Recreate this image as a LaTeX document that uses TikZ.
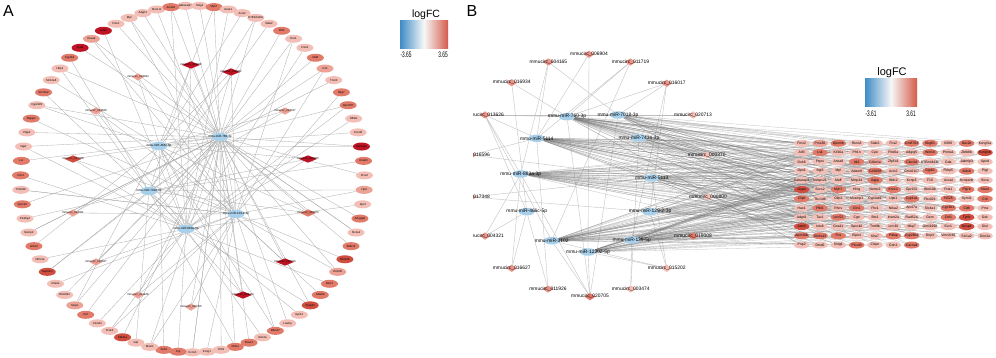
\documentclass[tikz,border=0pt]{standalone}
\usepackage{fontspec}
\setmainfont{Liberation Sans}
\usepackage{graphicx}
\usetikzlibrary{shapes.geometric,backgrounds}
\definecolor{hubblue}{RGB}{168,208,234}
\definecolor{gL}{RGB}{243,190,181}
\definecolor{gP}{RGB}{237,162,150}
\definecolor{gM}{RGB}{226,122,106}
\definecolor{gD}{RGB}{208,78,64}
\definecolor{gX}{RGB}{190,20,36}
\definecolor{gS}{RGB}{234,150,138}
\definecolor{edgegray}{RGB}{172,172,172}
\definecolor{edgelight}{RGB}{190,190,190}
\definecolor{edgedark}{RGB}{118,118,118}
\definecolor{lgblue}{RGB}{62,140,198}
\definecolor{lgred}{RGB}{212,92,74}
\definecolor{lgmid}{RGB}{247,247,247}
\pgfdeclarelayer{bgwhite}
\pgfsetlayers{bgwhite,background,main}
\begin{document}
\begin{tikzpicture}[x=1pt,y=-1pt,
  ringg/.style={ellipse, draw=none, minimum width=17pt, minimum height=8pt, inner sep=0pt},
  lblA/.style={font=\fontsize{2.8}{3}\selectfont, inner sep=0pt},
  lblH/.style={font=\fontsize{3}{3.2}\selectfont, inner sep=0pt},
  hubA/.style={ellipse, fill=hubblue, minimum width=17pt, minimum height=8.5pt, inner sep=0pt},
  circA/.style={diamond, inner sep=0pt},
  hubB/.style={ellipse, fill=hubblue, minimum width=16pt, minimum height=7.5pt, inner sep=0pt},
  lblB/.style={font=\fontsize{4.9}{5}\selectfont, inner sep=0pt},
  circB/.style={diamond, minimum width=11pt, minimum height=7.5pt, inner sep=0pt},
  gridg/.style={ellipse, minimum width=15.5pt, minimum height=7pt, inner sep=0pt},
  lblG/.style={font=\fontsize{3.4}{3.6}\selectfont, inner sep=0pt},
  edgeA/.style={draw=edgegray, line width=0.3pt},
  edgeC/.style={draw=edgelight, line width=0.35pt},
  edgeG/.style={draw=edgedark, line width=0.3pt, opacity=0.45},
  panel/.style={font=\fontsize{16}{16}\selectfont, inner sep=0pt},
  legt/.style={font=\fontsize{10.5}{11}\selectfont, inner sep=0pt},
  legn/.style={font=\fontsize{8}{8}\selectfont, inner sep=0pt}
]
\useasboundingbox (0,0) rectangle (996,358);
\begin{pgfonlayer}{bgwhite}
\fill[white] (0,0) rectangle (996,358);
\end{pgfonlayer}

% ================= Panel A =================
\node[panel] (labA) at (8.5,11) {A};

% hubs
\node[hubA, label={[lblH]center:mmu-miR-760-3p}] (a1) at (220,137) {};
\node[hubA, label={[lblH]center:mmu-miR-466c-5p}] (a2) at (159,146) {};
\node[hubA, label={[lblH]center:mmu-miR-7018-3p}] (a3) at (149,191) {};
\node[hubA, label={[lblH]center:mmu-miR-129-2-3p}] (a4) at (236,214) {};
\node[hubA, label={[lblH]center:mmu-miR-883a-3p}] (a5) at (186,229) {};

% ring of genes
\foreach \nm/\c [count=\k] in {Gabarapl1/L, Sntg1/L, Myh7/M, Gnat1/L, Actc2/L, D7Ertd443e/L, Stab2/L, Pilrb/M, Enc1/L, Fmo2/L, Maff/M, F10/P, Tnnt3/L, Nkg7/M, Gm4787/M, Nfkbiz/L, Kcnd3/L, Cacna1e/X, Dnah3/M, Prss3/L, Hpd/P, Apof/L, Arhgap8/M, Slc1a2/L, Zbtb16/M, Wnt10b/D, Dnmt3l/P, Nme7/M, Adam8/M, Cfap44/D, Gpr12/L, Lsamp/L, Rbm47/M, Grin2a/L, Rcan1/M, Cbln1/M, Hrh3/L, Kcng1/L, Kcnn3/L, Crp/M, Ssh3/M, Mcam/L, Gpt/L, Cdk11a/D, Pcsk2/L, Ctnnd2/L, Ctrl/M, Snrpn/P, Rhobtb1/L, Ctla2a/L, Nup62cl/D, Nt5c1a/L, Grb10/M, Nemp2/L, Plekhg4/L, Spock3/M, Trmt61b/L, Ccn3/M, Lsr/M, Ngef/L, Plpp2/L, Dlgap2/M, Cyp2d22/L, Slc15a2/M, Slc12a6/L, Hbp1/L, Cyp1b1/M, Fcrla/X, Hoxa9/P, Lars2/X, Fmo1/L, Mpl/L, Adgrl4/L, Slco1c1/L, Amotl1/M}{
  \pgfmathsetmacro\ang{92.4-(\k-1)*4.8}
  \node[ringg, fill=g\c, label={[lblA]center:\nm}] (r\k) at ({192.5+172*cos(\ang)},{179-173.3*sin(\ang)}) {};
}

% circRNA diamonds of panel A
\foreach \x/\y/\c/\w/\nm [count=\k] in {191/65/X/18/019008, 231/72/X/18/015202, 285/111/P/13/016017, 308/159/X/18/000800, 308/213/M/16/000370, 285/262/X/18/020713, 243/295/X/18/003474, 191/307/P/12/020705, 138/295/P/12/011926, 96/262/P/13/016627, 73/213/P/12/004321, 73/159/D/17/017348, 96/111/P/13/013626, 138/77/P/12/016934}{
  \node[circA, fill=g\c, minimum width=\w pt, minimum height=7.5pt, label={[lblA]center:mmucirc\_\nm}] (d\k) at (\x,\y) {};
}

\begin{pgfonlayer}{background}
\foreach \k in {1,...,75}{
  \pgfmathtruncatemacro\ha{{1,1,4,1,5,2,1,3,1,4,5,1}[mod(\k,12)]}
  \draw[edgeA] (r\k) -- (a\ha);
  \pgfmathtruncatemacro\t{mod(\k,3)}
  \ifnum\t=0
    \pgfmathtruncatemacro\hb{{5,3,4,2,1}[mod(\k,5)]}
    \draw[edgeA] (r\k) -- (a\hb);
  \fi
}
\foreach \d/\h in {1/1,1/3,1/5,2/2,2/4,2/5,3/2,3/3,4/2,4/3,4/5,5/2,5/3,5/1,6/1,6/2,7/1,7/2,7/3,8/1,8/4,9/1,9/4,10/1,10/4,11/1,11/4,12/1,12/4,12/5,13/4,13/5,14/4,14/5}{
  \draw[edgeA] (d\d) -- (a\h);
}
\end{pgfonlayer}

% legend A
\shade[left color=lgblue, right color=lgmid] (400,20.7) rectangle (424,48.3);
\shade[left color=lgmid, right color=lgred] (424,20.7) rectangle (448,48.3);
\node[legt] (legAt) at (426,14.5) {logFC};
\node[legn] (legA1) at (406,54.5) {\scalebox{0.6}[1]{-3.65}};
\node[legn] (legA2) at (443,54.5) {\scalebox{0.6}[1]{3.65}};

% ================= Panel B =================
\node[panel] (labB) at (472,11) {B};

% legend B
\shade[left color=lgblue, right color=lgmid] (865,79) rectangle (891,107);
\shade[left color=lgmid, right color=lgred] (891,79) rectangle (917,107);
\node[legt, font=\fontsize{11}{11}\selectfont] (legBt) at (892,72.5) {logFC};
\node[legn] (legB1) at (871,113.5) {\scalebox{0.6}[1]{-3.61}};
\node[legn] (legB2) at (911,113.5) {\scalebox{0.6}[1]{3.61}};

\begin{scope}
\clip (473,0) rectangle (996,358);
% miRNA hubs
\foreach \x/\y/\nm [count=\k] in {567/116.7/mmu-miR-760-3p, 618/115/mmu-miR-7018-3p, 536.7/138.3/mmu-miR-5114, 639/138/mmu-miR-743a-3p, 520.7/174/mmu-miR-883a-3p, 651.7/178/mmu-miR-5113, 526.7/211.7/mmu-miR-466c-5p, 650/211.7/mmu-miR-129-2-3p, 551.7/240.7/mmu-miR-3102, 631.7/240/mmu-miR-139-5p, 588/252/mmu-miR-12202-5p}{
  \node[hubB, label={[lblB]center:\nm}] (b\k) at (\x,\y) {};
}
% circRNAs
\foreach \x/\y/\c/\nm [count=\k] in {589/54.3/S/006904, 548.4/62/S/004165, 630.4/62/S/011719, 511.7/82.7/S/016934, 666.7/83.3/S/016017, 485/115/S/013626, 693/115/L/020713, 471/155/S/016596, 706.7/155/L/000370, 471/197/S/017348, 708/197/L/000800, 485/236/S/004321, 693/236/M/019008, 511.7/268.3/S/016627, 666.7/268.3/L/015202, 548/289/S/011926, 630.7/289/L/003474, 590/296.7/M/020705}{
  \node[circB, fill=g\c, label={[lblB]center:mmucirc\_\nm}] (c\k) at (\x,\y) {};
}
% mRNA grid
\foreach \row [count=\j from 0] in {
 {Fmo2/L,Prss30/P,Gpnmb/M,Rens3/L,Stab2/L,Fos2/L,Gm8703/M,Nkg81/M,Kif80/L,Dac2b/M,Kcngf1a/L},
 {Atf3/L,Lsk/M,Kif16a/L,Pfr1n/L,Cpic/L,Pde6a/L,Adgrg5/L,Wnt16/M,Prima1/L,Zbtb8b/L,Kcnpnb/D},
 {Dok6/L,Ptpru/L,Anxa8/L,Itk3/M,Cdkn1a/P,Zfp541/L,Clec4d/M,D7Ertd443e/L,Gda/L,Jakmip3/L,Apod/L},
 {Opn1/L,Bgt3/L,Mpl/L,Adam8/L,Cd300lf/M,Actc2/L,Gm42117/L,Gjp10/M,Fkbp5/L,Aldob/M,Pigt/L},
 {Gabarapl1/L,Nebpv21/L,Maff/L,Mmp24/L,Aqpp/M,Wdc2/L,Kcnp3/L,F10/L,Acoat/L,Kcnpsnb/L,Snca/L},
 {Gypa/D,Socs2/L,Myh7/M,Hhig/L,Nemo2/L,Kcnc1/M,Gpr152/L,Wnt10b/L,Frat1/L,Plgrb/M,Stac2/M},
 {Clip5/M,Tbc1d8/L,Olfp2/L,Mcamp1/L,Cyp2ab1/L,Upk1/L,Cyp1a1/M,Fbx021/L,Ts525/M,Syml1/L,Crtl/M},
 {Hao1/L,Pfkl1/M,Rhov/L,Ctn1/M,Fhx1/L,Nrka2/L,Apol7a/L,Slc4a1/L,Cyp1b1/M,Cd8/M,Prnz/L},
 {Adgrl1/L,Tac1/L,Lrrc52/M,Cgn/L,Bst1/L,Insm2a/L,Rad52a/L,Gem/L,Crtl1/M,Tyrfe/D,Gdc/L},
 {Jam3/D,Ints6/L,Gna11/L,Spock2/L,Tmt9b/L,Lrrc30/L,Mkp7/L,Gm11992/L,Evc1/L,Dusp4/D,Glul/L},
 {Apol10b/M,Slc6a13/M,Fos/M,Elpk4/L,Klra7/L,Pdlap/M,Cyp26b1/M,Dnp3/L,Vmn2r30/L,Slc1a2/L,Grin2a/L},
 {Pnp2/L,Dmd2/L,Sntg1/L,Plcxd3/M,Clspn/L,Grin1/L,Cacna4/M}}{
  \foreach \nm/\c [count=\i from 0] in \row {
    \node[gridg, fill=g\c, label={[lblG]center:\nm}] (g\j-\i) at ({801.7+18.33*\i},{143.3+9.25*\j}) {};
  }
}
\end{scope}

\begin{pgfonlayer}{background}
\begin{scope}
\clip (473,0) rectangle (996,358);
\foreach \a/\b in {1/11,1/3,2/5,2/2,2/3,3/1,3/9,3/3,4/7,4/1,5/2,5/8,5/10,5/1,6/1,6/3,6/5,6/7,6/9,6/2,7/2,8/6,8/3,9/3,9/1,10/6,10/8,11/5,11/9,12/7,12/5,13/10,13/9,14/7,14/5,15/9,15/11,15/6,15/8,16/3,16/7,17/10,17/4,18/11,18/1,18/9,18/2,18/5}{
  \draw[edgeC] (c\a) -- (b\b);
}
\foreach \j in {0,...,11}{
  \foreach \i in {0,...,10}{
    \pgfmathtruncatemacro\n{11*\j+\i}
    \ifnum\n<128
      \pgfmathtruncatemacro\ha{{1,3,5,9,2,6,10,11,8,1,5,9,3,4}[mod(\n,14)]}
      \pgfmathtruncatemacro\hb{{5,9,1,3,11,2,8,6,10}[mod(\n*5,9)]}
      \draw[edgeG] (g\j-\i) -- (b\ha);
      \draw[edgeG] (g\j-\i) -- (b\hb);
      \pgfmathtruncatemacro\t{mod(\n,3)}
      \ifnum\t=0
        \pgfmathtruncatemacro\hc{{1,9,5,3,11}[mod(\n,5)]}
        \draw[edgeG] (g\j-\i) -- (b\hc);
      \fi
    \fi
  }
}
\end{scope}
\end{pgfonlayer}
\end{tikzpicture}
\end{document}
